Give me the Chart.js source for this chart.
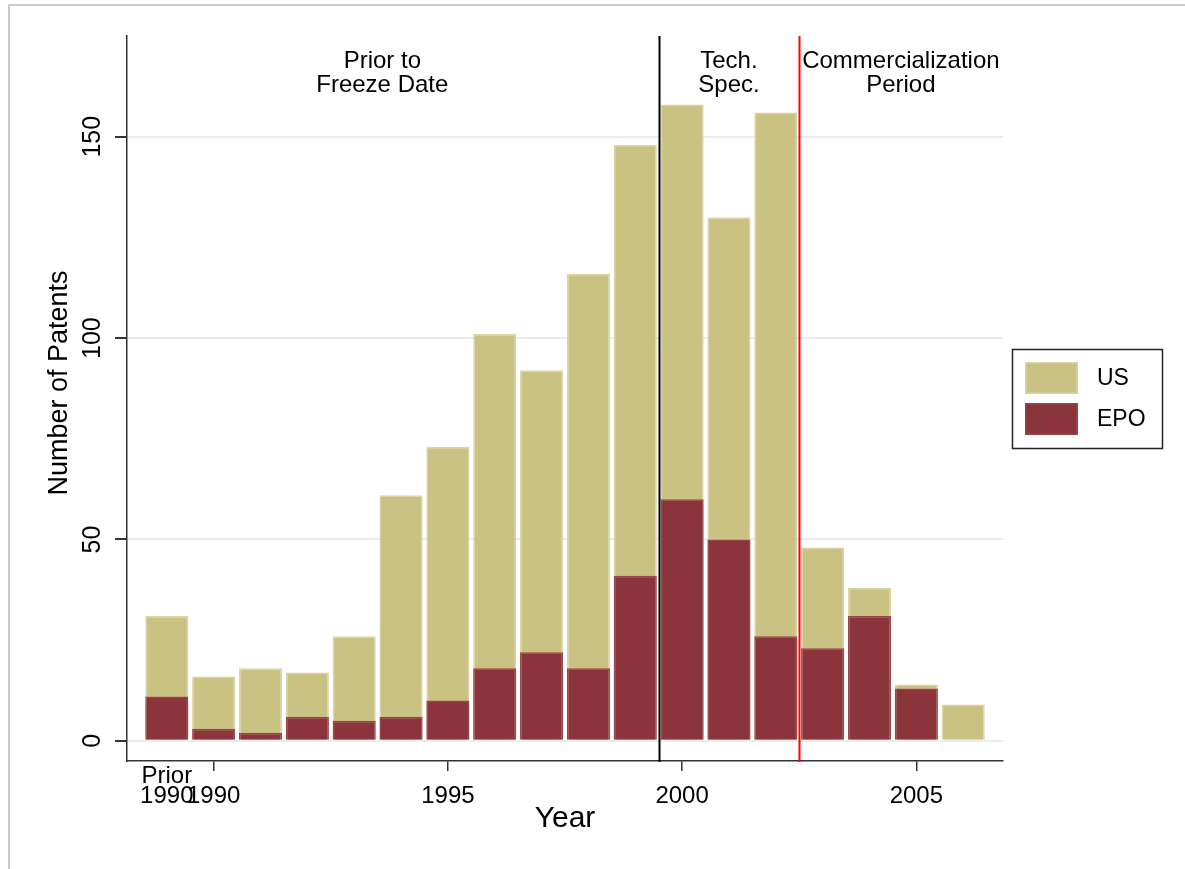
<!DOCTYPE html>
<html>
<head>
<meta charset="utf-8">
<title>Patents by year</title>
<script src="https://cdn.jsdelivr.net/npm/chart.js@4.4.1/dist/chart.umd.min.js"></script>
<style>
  html, body { margin: 0; padding: 0; background: #fff; overflow: hidden; }
  #wrap { position: relative; width: 1185px; height: 869px; }
  #frame {
    position: absolute; left: 8px; top: 4px; width: 1200px; height: 900px;
    border-top: 2px solid #c6cbcb; border-left: 2px solid #c6cbcb;
    pointer-events: none;
  }
  canvas { position: absolute; left: 0; top: 0; }
</style>
</head>
<body>
<div id="wrap">
  <div id="frame"></div>
  <canvas id="patentChart"></canvas>
</div>
<script>
// bar positions, one per year ("Prior 1990" sits at 1989)
const years = [1989, 1990, 1991, 1992, 1993, 1994, 1995, 1996, 1997, 1998, 1999, 2000, 2001, 2002, 2003, 2004, 2005, 2006];
const usPatents = [31, 16, 18, 17, 26, 61, 73, 101, 92, 116, 148, 158, 130, 156, 48, 38, 14, 9];
const epoPatents = [11, 3, 2, 6, 5, 6, 10, 18, 22, 18, 41, 60, 50, 26, 23, 31, 13, 0];

const xTickValues = [1989, 1990, 1995, 2000, 2005];
const xTickLabels = [["Prior", "1990"], ["", "1990"], ["", "1995"], ["", "2000"], ["", "2005"]];
const yTickValues = [0, 50, 100, 150];

// period boundaries and their headings
const periodBreaks = [1999.5, 2002.5];
const periodColors = ["#000000", "#ff0000"];
const periodLabels = [["Prior to", "Freeze Date"], ["Tech.", "Spec."], ["Commercialization", "Period"]];
const periodLabelX = [1993.6, 2001, 2004.67];

const usColor = "#c9c283";
const epoColor = "#8c343c";
const font = "'Liberation Sans', Arial, Helvetica, sans-serif";

Chart.defaults.font.family = font;
Chart.defaults.color = "#000";

const decorations = {
  id: "decorations",
  afterDatasetsDraw(chart) {
    const { ctx, chartArea, scales } = chart;
    const x = scales.x, y = scales.y;
    ctx.save();

    // period divider lines
    periodBreaks.forEach((b, i) => {
      const px = Math.round(x.getPixelForValue(b)) + 0.5;
      ctx.strokeStyle = periodColors[i];
      ctx.lineWidth = 2;
      ctx.beginPath();
      ctx.moveTo(px, chartArea.top);
      ctx.lineTo(px, chartArea.bottom + 1);
      ctx.stroke();
    });

    // period headings
    ctx.fillStyle = "#000";
    ctx.font = "24px " + font;
    ctx.textAlign = "center";
    ctx.textBaseline = "middle";
    periodLabels.forEach((lines, i) => {
      const px = x.getPixelForValue(periodLabelX[i]);
      lines.forEach((t, j) => ctx.fillText(t, px, 61 + j * 24));
    });

    // rotated y tick labels and y title
    ctx.font = "25px " + font;
    yTickValues.forEach(v => {
      ctx.save();
      ctx.translate(93, y.getPixelForValue(v));
      ctx.rotate(-Math.PI / 2);
      ctx.fillText(String(v), 0, 0);
      ctx.restore();
    });
    ctx.save();
    ctx.font = "27px " + font;
    ctx.translate(60, 383);
    ctx.rotate(-Math.PI / 2);
    ctx.fillText("Number of Patents", 0, 0);
    ctx.restore();

    // legend box
    ctx.strokeStyle = "#222";
    ctx.lineWidth = 1.5;
    ctx.strokeRect(1012.5, 349.5, 150, 99);
    chart.data.datasets.forEach((ds, i) => {
      const top = 362 + i * 41;
      ctx.fillStyle = ds.backgroundColor;
      ctx.fillRect(1025, top, 53, 32);
      ctx.strokeStyle = ds.borderColor;
      ctx.lineWidth = 1.5;
      ctx.strokeRect(1025.75, top + 0.75, 51.5, 30.5);
      ctx.fillStyle = "#000";
      ctx.font = "23px " + font;
      ctx.textAlign = "left";
      ctx.fillText(ds.label, 1097, top + 17);
    });
    ctx.restore();
  }
};

new Chart(document.getElementById("patentChart"), {
  type: "bar",
  data: {
    datasets: [
      {
        label: "US",
        data: years.map((yr, i) => ({ x: yr, y: usPatents[i] })),
        backgroundColor: usColor,
        borderColor: "#d9d4a6",
        borderWidth: 1.5,
        order: 2
      },
      {
        label: "EPO",
        data: years.map((yr, i) => ({ x: yr, y: epoPatents[i] })),
        backgroundColor: epoColor,
        borderColor: "#98464d",
        borderWidth: ctx => (epoPatents[ctx.dataIndex] ? 1.5 : 0),
        order: 1
      }
    ]
  },
  options: {
    responsive: true,
    maintainAspectRatio: false,
    animation: false,
    devicePixelRatio: 1,
    layout: { padding: { left: 10, right: 182, top: 36, bottom: 0 } },
    datasets: { bar: { grouped: false, barPercentage: 0.92, categoryPercentage: 1 } },
    plugins: { legend: { display: false }, tooltip: { enabled: false } },
    scales: {
      x: {
        type: "linear",
        offset: false,
        min: 1988.15,
        max: 2006.85,
        afterBuildTicks: s => { s.ticks = xTickValues.map(v => ({ value: v })); },
        afterFit: s => { s.height = 108; },
        ticks: {
          autoSkip: false,
          maxRotation: 0,
          padding: -5,
          font: { size: 24, lineHeight: 0.85 },
          color: "#000",
          callback: v => xTickLabels[xTickValues.indexOf(v)]
        },
        grid: {
          offset: false,
          drawOnChartArea: false,
          drawTicks: true,
          tickLength: 10,
          tickColor: c => (c.tick && c.tick.value === 1989 ? "rgba(0,0,0,0)" : "#333"),
          lineWidth: 1.5
        },
        border: { display: true, color: "#333", width: 1.5 },
        title: { display: true, text: "Year", font: { size: 30 }, color: "#000", padding: { top: 0, bottom: 32 } }
      },
      y: {
        min: -5,
        max: 175,
        afterBuildTicks: s => { s.ticks = yTickValues.map(v => ({ value: v })); },
        afterFit: s => { s.width = 117; },
        ticks: { display: false },
        grid: {
          color: "#e6eef0",
          lineWidth: 2,
          drawTicks: true,
          tickLength: 12,
          tickColor: "#333"
        },
        border: { display: true, color: "#333", width: 1.5 }
      }
    }
  },
  plugins: [decorations]
});
</script>
</body>
</html>
